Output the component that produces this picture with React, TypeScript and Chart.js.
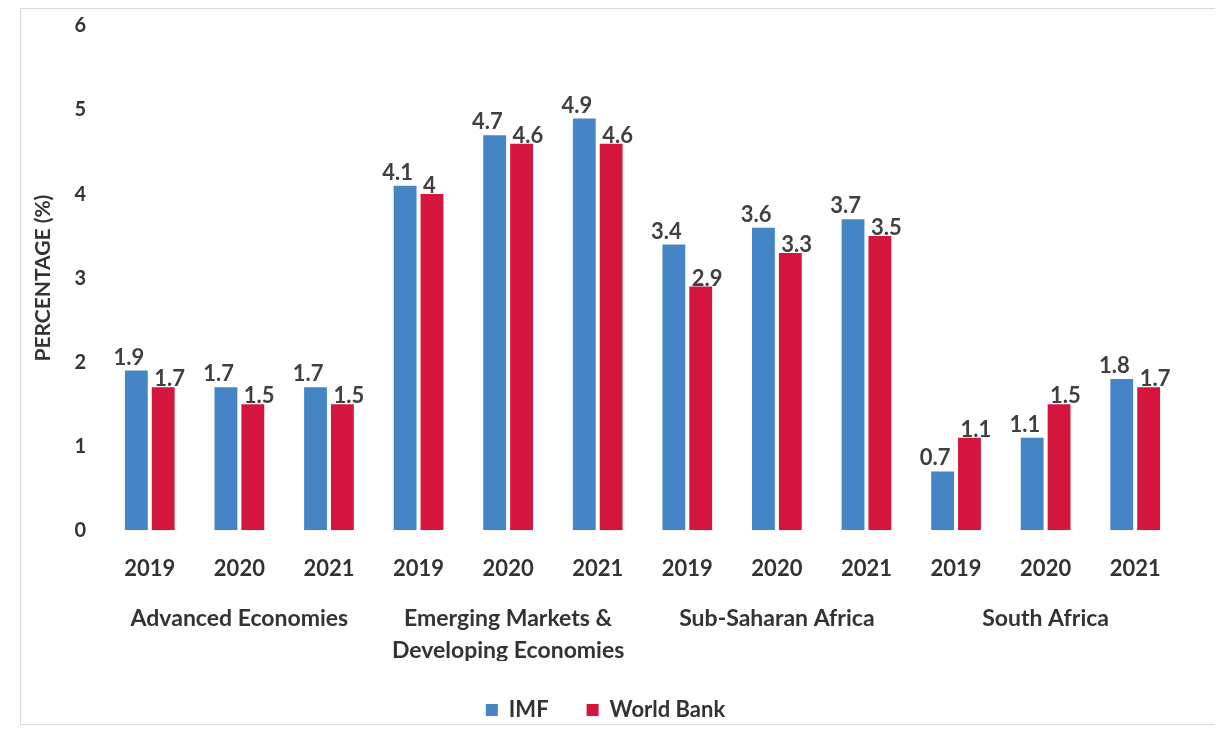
import React, { useEffect, useRef } from "react";
import { Chart, registerables } from "chart.js";

Chart.register(...registerables);

const years = ["2019", "2020", "2021", "2019", "2020", "2021", "2019", "2020", "2021", "2019", "2020", "2021"];
const groups = [
  "Advanced Economies",
  ["Emerging Markets &", "Developing Economies"],
  "Sub-Saharan Africa",
  "South Africa",
];
const imf = [1.9, 1.7, 1.7, 4.1, 4.7, 4.9, 3.4, 3.6, 3.7, 0.7, 1.1, 1.8];
const worldBank = [1.7, 1.5, 1.5, 4, 4.6, 4.6, 2.9, 3.3, 3.5, 1.1, 1.5, 1.7];
const yTicks = [0, 1, 2, 3, 4, 5, 6];

const FONT = "Lato, 'Open Sans', sans-serif";

const valueLabels = {
  id: "valueLabels",
  afterDatasetsDraw(chart: any) {
    const ctx = chart.ctx;
    ctx.save();
    ctx.font = `bold 22px ${FONT}`;
    ctx.fillStyle = "#404040";
    ctx.textBaseline = "bottom";
    chart.data.datasets.forEach((ds: any, di: number) => {
      const meta = chart.getDatasetMeta(di);
      meta.data.forEach((bar: any, i: number) => {
        const v = ds.data[i];
        ctx.textAlign = di === 0 ? "right" : "left";
        const x = di === 0 ? bar.x + 8 : bar.x - 9;
        const y = di === 0 ? bar.y - 2 : bar.y + 3;
        ctx.fillText(String(v), x, y);
      });
    });
    ctx.restore();
  },
};

export default function App() {
  const ref = useRef<HTMLCanvasElement>(null);
  useEffect(() => {
    if (!ref.current) return;
    const chart = new Chart(ref.current, {
      type: "bar",
      data: {
        labels: years,
        datasets: [
          {
            label: "IMF",
            data: imf,
            backgroundColor: "#4585c6",
            xAxisID: "x",
            categoryPercentage: 0.6,
            barPercentage: 0.85,
          },
          {
            label: "World Bank",
            data: worldBank,
            backgroundColor: "#d4163f",
            xAxisID: "x",
            categoryPercentage: 0.6,
            barPercentage: 0.85,
          },
        ],
      },
      options: {
        animation: false,
        responsive: true,
        maintainAspectRatio: false,
        layout: { padding: { left: 10, right: 36, top: 0, bottom: 5 } },
        plugins: {
          tooltip: { enabled: false },
          legend: {
            position: "bottom",
            labels: {
              boxWidth: 12,
              boxHeight: 12,
              padding: 38,
              color: "#333",
              font: { family: FONT, size: 22, weight: "bold" },
            },
          },
        },
        scales: {
          x: {
            type: "category",
            position: "bottom",
            offset: true,
            grid: { display: false },
            border: { display: false },
            ticks: {
              color: "#333",
              padding: 18,
              font: { family: FONT, size: 22, weight: "bold" },
              maxRotation: 0,
              autoSkip: false,
            },
          },
          x2: {
            type: "category",
            position: "bottom",
            labels: groups as any,
            offset: true,
            grid: { display: false },
            border: { display: false },
            ticks: {
              color: "#333",
              padding: -6,
              font: { family: FONT, size: 23, weight: "bold", lineHeight: 1.4 },
              maxRotation: 0,
              autoSkip: false,
            },
          },
          y: {
            min: 0,
            max: 6,
            afterBuildTicks: (axis: any) => {
              axis.ticks = yTicks.map((v) => ({ value: v }));
            },
            afterFit: (axis: any) => {
              axis.width = 74;
            },
            grid: { display: false },
            border: { display: false },
            title: {
              display: true,
              text: "PERCENTAGE (%)",
              color: "#333",
              font: { family: FONT, size: 21, weight: "bold" },
              padding: { top: 0, bottom: 0 },
            },
            ticks: {
              color: "#333",
              padding: 11,
              font: { family: FONT, size: 20, weight: "bold" },
            },
          },
        },
      },
      plugins: [valueLabels],
    });
    return () => chart.destroy();
  }, []);
  return (
    <div
      style={{
        width: 1195,
        height: 715,
        position: "relative",
        border: "1px solid #d8d8d8",
        marginLeft: 12,
        background: "#fff",
      }}
    >
      <div style={{ position: "absolute", left: 0, top: -6, width: 1195, height: 733 }}>
        <canvas ref={ref} />
      </div>
    </div>
  );
}
